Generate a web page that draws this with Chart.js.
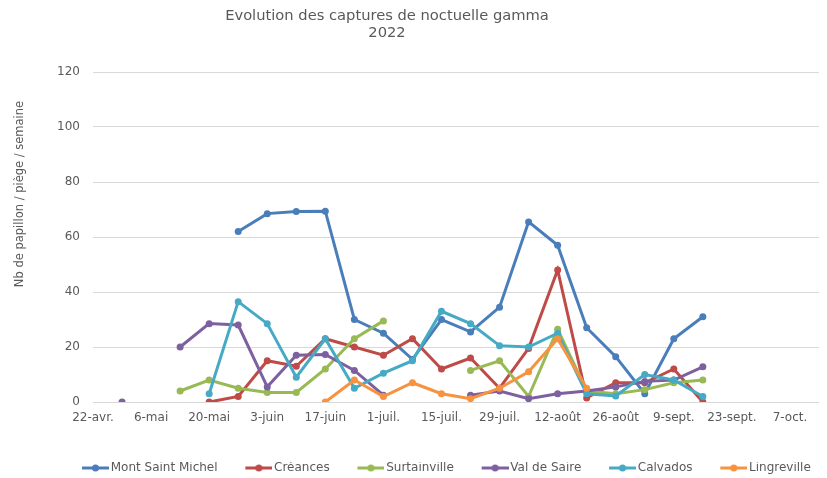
<!DOCTYPE html>
<html lang="fr">
<head>
<meta charset="utf-8">
<title>Evolution des captures de noctuelle gamma 2022</title>
<script src="https://cdn.jsdelivr.net/npm/chart.js@4"></script>
<style>
  html, body { margin: 0; padding: 0; background: #fff; }
  #wrap { width: 827px; height: 478px; }
</style>
</head>
<body>
<div id="wrap"><canvas id="chart" width="827" height="478"></canvas></div>
<script>
// axis range and tick labels
const startDate = '2022-04-22';
const endDate = '2022-10-14';
const tickDates = ['2022-04-22', '2022-05-06', '2022-05-20', '2022-06-03', '2022-06-17', '2022-07-01',
  '2022-07-15', '2022-07-29', '2022-08-12', '2022-08-26', '2022-09-09', '2022-09-23', '2022-10-07'];
const tickLabels = ['22-avr.', '6-mai', '20-mai', '3-juin', '17-juin', '1-juil.',
  '15-juil.', '29-juil.', '12-août', '26-août', '9-sept.', '23-sept.', '7-oct.'];
const yTicks = { min: 0, max: 120, step: 20 };

// weekly trap readings
const weeks = ['2022-04-29', '2022-05-06', '2022-05-13', '2022-05-20', '2022-05-27', '2022-06-03', '2022-06-10',
  '2022-06-17', '2022-06-24', '2022-07-01', '2022-07-08', '2022-07-15', '2022-07-22', '2022-07-29',
  '2022-08-05', '2022-08-12', '2022-08-19', '2022-08-26', '2022-09-02', '2022-09-09', '2022-09-16'];

const montSaintMichel = [null, null, null, null, 62, 68.5, 69.3, 69.4, 30, 25, 15.5, 30, 25.5, 34.5, 65.5, 57, 27, 16.5, 3, 23, 31];
const creances        = [null, null, null, 0, 2, 15, 13, 23, 20, 17, 23, 12, 16, 5, 19.5, 48, 1.5, 7, 7, 12, 0];
const surtainville    = [null, null, 4, 8, 5, 3.5, 3.5, 12, 23, 29.5, null, null, 11.5, 15, 2, 26.5, 4, 3, 4.5, 7, 8];
const valDeSaire      = [0, null, 20, 28.5, 28, 5.5, 17, 17.3, 11.5, 2.5, null, null, 2.5, 4, 1.2, 3, 4, 5.5, 7.5, 8, 12.8];
const calvados        = [null, null, null, 3, 36.5, 28.5, 9, 23, 5, 10.5, 15, 33, 28.5, 20.5, 20, 25, 3, 2.2, 10, 8, 2];
const lingreville     = [null, null, null, null, null, null, null, 0, 8, 2, 7, 3, 1.2, 5, 11, 23, 5, null, null, null, null];

const seriesNames = ['Mont Saint Michel', 'Créances', 'Surtainville', 'Val de Saire', 'Calvados', 'Lingreville'];
const seriesValues = [montSaintMichel, creances, surtainville, valDeSaire, calvados, lingreville];
const colors = ['#4A7EBB', '#BE4B48', '#98B954', '#7D60A0', '#46AAC5', '#F69240'];

const titleLines = ['Evolution des captures de noctuelle gamma', '2022'];
const yTitle = 'Nb de papillon / piège / semaine';

const FONT = '"DejaVu Sans", Verdana, sans-serif';
const TEXT = '#595959';

const dayOf = d => (Date.parse(d) - Date.parse(startDate)) / 864e5;

// legend marker: short line with a dot; the blank left part spaces the items
const LEG_BOX = 50.5;
function legendMarker(color) {
  const w = 27;
  const c = document.createElement('canvas');
  c.width = Math.round(LEG_BOX + 8);
  c.height = 10;
  const g = c.getContext('2d');
  const x0 = c.width - w;
  g.strokeStyle = color;
  g.lineWidth = 3;
  g.beginPath();
  g.moveTo(x0, 5);
  g.lineTo(c.width, 5);
  g.stroke();
  g.fillStyle = color;
  g.beginPath();
  g.arc(x0 + w / 2, 5, 3.5, 0, Math.PI * 2);
  g.fill();
  return c;
}
const markers = colors.map(legendMarker);

const captions = {
  id: 'captions',
  afterDraw(chart) {
    const ctx = chart.ctx;
    ctx.save();
    ctx.fillStyle = TEXT;
    ctx.textAlign = 'center';
    ctx.textBaseline = 'middle';
    ctx.font = '14.7px ' + FONT;
    titleLines.forEach((t, i) => ctx.fillText(t, 387, 16 + i * 17));
    ctx.translate(20, 194);
    ctx.rotate(-Math.PI / 2);
    ctx.font = '11.5px ' + FONT;
    ctx.fillText(yTitle, 0, 0);
    ctx.restore();
  }
};

new Chart(document.getElementById('chart'), {
  type: 'line',
  data: {
    datasets: seriesNames.map((name, i) => ({
      label: name,
      data: weeks.map((d, k) => ({ x: dayOf(d), y: seriesValues[i][k] })),
      borderColor: colors[i],
      backgroundColor: colors[i],
      borderWidth: 3,
      pointRadius: 3.5,
      pointBorderWidth: 0,
      pointHoverRadius: 4,
      tension: 0,
      spanGaps: false,
      order: seriesNames.length - i
    }))
  },
  options: {
    responsive: false,
    animation: false,
    layout: { padding: { left: 46, right: 8, top: 72, bottom: -6 } },
    plugins: {
      title: { display: false },
      tooltip: { enabled: false },
      legend: {
        position: 'bottom',
        labels: {
          usePointStyle: true,
          pointStyleWidth: LEG_BOX,
          padding: 0,
          color: TEXT,
          font: { family: FONT, size: 12 },
          generateLabels: chart => chart.data.datasets.map((ds, i) => ({
            text: ds.label,
            pointStyle: markers[i],
            fillStyle: colors[i],
            strokeStyle: colors[i],
            lineWidth: 0,
            fontColor: TEXT,
            hidden: false,
            datasetIndex: i
          }))
        }
      }
    },
    scales: {
      x: {
        type: 'linear',
        min: 0,
        max: dayOf(endDate),
        afterBuildTicks: scale => { scale.ticks = tickDates.map(d => ({ value: dayOf(d) })); },
        afterFit: scale => { scale.height = 60; },
        grid: { display: false, drawTicks: false },
        border: { display: false },
        ticks: {
          autoSkip: false,
          maxRotation: 0,
          padding: 9,
          color: TEXT,
          font: { family: FONT, size: 12 },
          callback: (v, i) => tickLabels[i]
        }
      },
      y: {
        min: yTicks.min,
        max: yTicks.max,
        afterFit: scale => { scale.width = 47; },
        grid: { color: '#D9D9D9', lineWidth: 1, drawTicks: false },
        border: { display: false },
        ticks: {
          stepSize: yTicks.step,
          padding: 13,
          color: TEXT,
          font: { family: FONT, size: 12 }
        }
      }
    }
  },
  plugins: [captions]
});
</script>
</body>
</html>
